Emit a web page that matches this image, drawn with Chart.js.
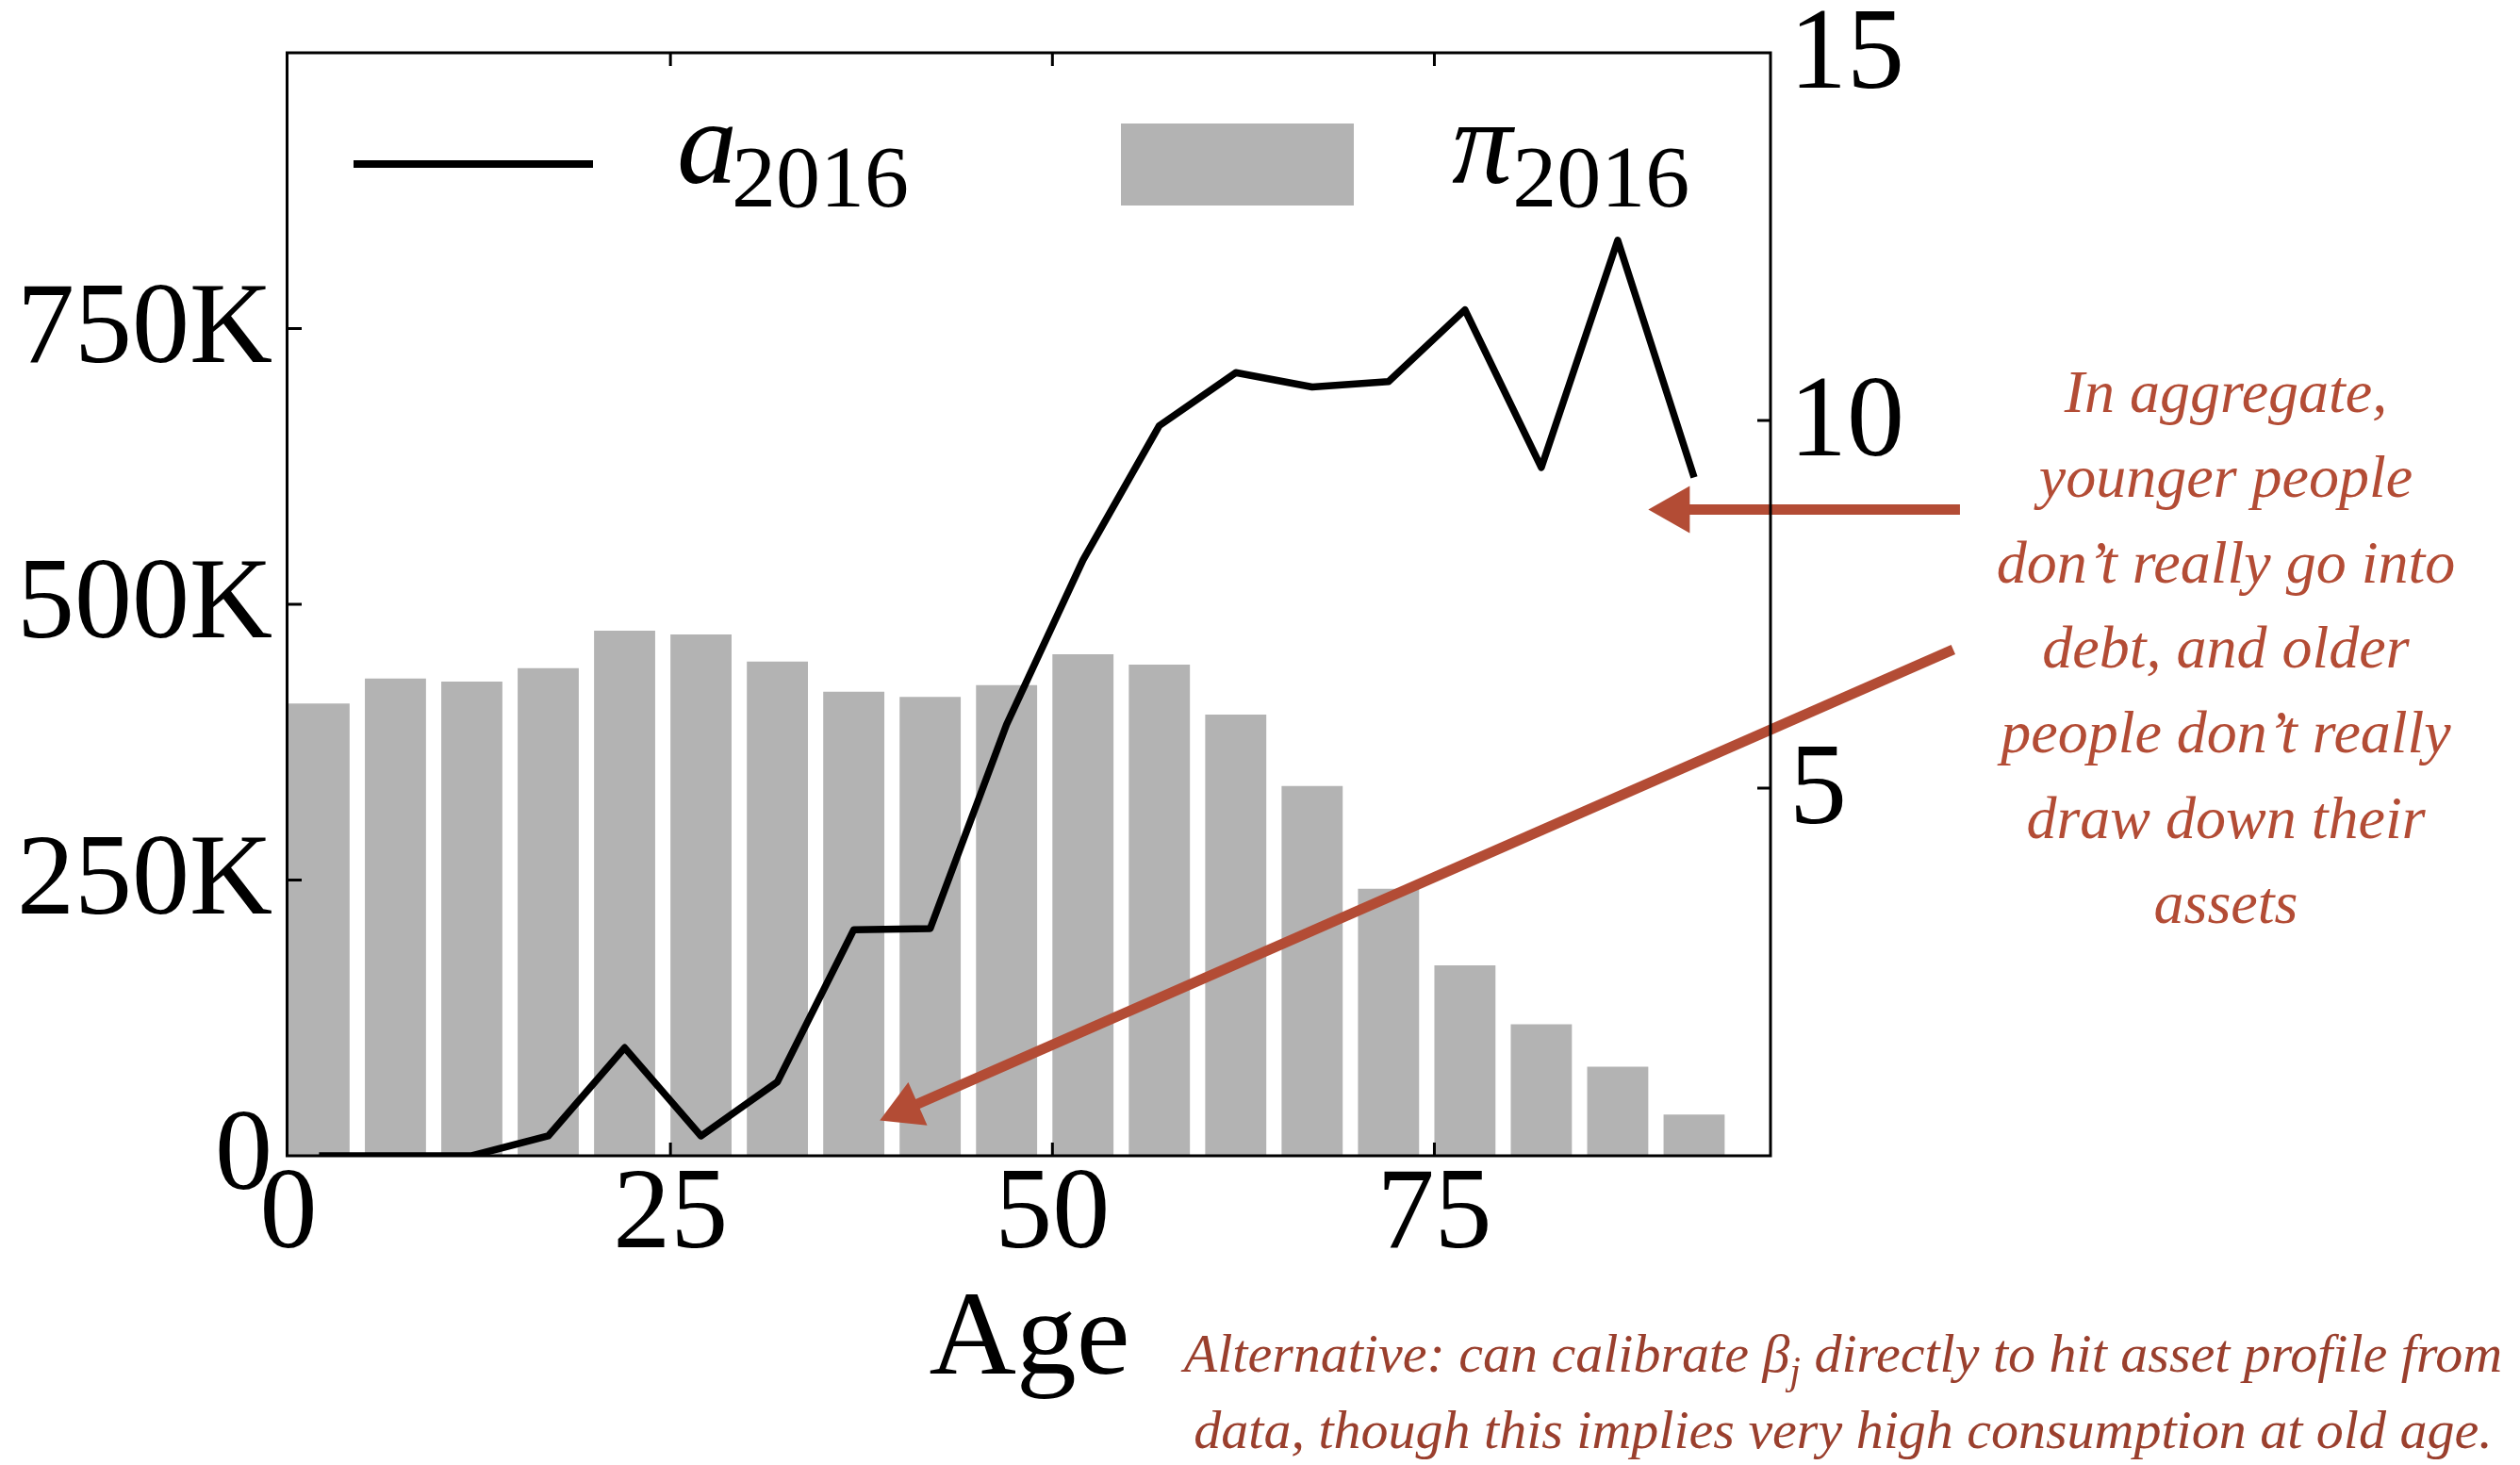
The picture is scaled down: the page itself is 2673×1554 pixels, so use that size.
<!DOCTYPE html>
<html>
<head>
<meta charset="utf-8">
<script src="https://cdn.jsdelivr.net/npm/chart.js@4.4.1/dist/chart.umd.min.js"></script>
<style>
  html, body { margin: 0; padding: 0; background: #ffffff; }
  #wrap { width: 2673px; height: 1554px; }
</style>
</head>
<body>
<div id="wrap"><canvas id="c" width="2673" height="1554"></canvas></div>
<script>
// Age groups (bin centres, five-year bins)
const ages = [2, 7, 12, 17, 22, 27, 32, 37, 42, 47, 52, 57, 62, 67, 72, 77, 82, 87, 92];
// Average assets by age, 2016
const assets2016 = [0, 0, 0, 18000, 98000, 18000, 67000, 205000, 206000, 391000,
                    540000, 662000, 710000, 697000, 702000, 767000, 624000, 830000, 615000];
// Population share by age, 2016 (percent)
const popShare2016 = [6.15, 6.49, 6.45, 6.63, 7.14, 7.09, 6.72, 6.31, 6.24, 6.40,
                      6.82, 6.68, 6.00, 5.03, 3.63, 2.59, 1.79, 1.21, 0.56];

// Tick values
const xTicks = [0, 25, 50, 75];
const assetTicks = [0, 250000, 500000, 750000];
const shareTicks = [5, 10, 15];

const SERIF = '"Liberation Serif", "Times New Roman", serif';
const RED = '#b34c35';
const RED_DARK = '#9a3f2d';
const GREY = '#b3b3b3';

const noteLines = [
  'In aggregate,',
  'younger people',
  'don\u2019t really go into',
  'debt, and older',
  'people don\u2019t really',
  'draw down their',
  'assets'
];

// Frame, inward tick marks, legend and annotations
const decorations = {
  id: 'decorations',
  afterDatasetsDraw(chart) {
    const ctx = chart.ctx;
    const x = chart.scales.x, yL = chart.scales.yL;
    // arrows (tail and tip in data coordinates)
    const arrows = [
      { from: [109.4, 586000], to: [89.0, 586000] },
      { from: [108.96, 459000], to: [38.7, 32000] }
    ];
    ctx.save();
    ctx.strokeStyle = RED;
    ctx.fillStyle = RED;
    ctx.lineWidth = 11;
    ctx.lineCap = 'butt';
    for (const a of arrows) {
      const x0 = x.getPixelForValue(a.from[0]), y0 = yL.getPixelForValue(a.from[1]);
      const x1 = x.getPixelForValue(a.to[0]), y1 = yL.getPixelForValue(a.to[1]);
      const ang = Math.atan2(y1 - y0, x1 - x0);
      const headLen = 44, headHalf = 25;
      const bx = x1 - headLen * Math.cos(ang), by = y1 - headLen * Math.sin(ang);
      ctx.beginPath();
      ctx.moveTo(x0, y0);
      ctx.lineTo(bx + 2 * Math.cos(ang), by + 2 * Math.sin(ang));
      ctx.stroke();
      ctx.beginPath();
      ctx.moveTo(x1, y1);
      ctx.lineTo(bx + headHalf * Math.sin(ang), by - headHalf * Math.cos(ang));
      ctx.lineTo(bx - headHalf * Math.sin(ang), by + headHalf * Math.cos(ang));
      ctx.closePath();
      ctx.fill();
    }
    ctx.restore();
  },
  afterDraw(chart) {
    const ctx = chart.ctx;
    const area = chart.chartArea;
    const x = chart.scales.x, yL = chart.scales.yL, yR = chart.scales.yR;
    ctx.save();

    // frame
    ctx.strokeStyle = '#000';
    ctx.lineWidth = 3;
    ctx.strokeRect(area.left - 1.5, area.top, area.right - area.left + 1.5, area.bottom - area.top);

    // inward tick marks
    const tl = 14;
    ctx.lineWidth = 3;
    ctx.beginPath();
    for (const v of xTicks) {
      if (v <= x.min) continue;
      const px = x.getPixelForValue(v);
      ctx.moveTo(px, area.bottom); ctx.lineTo(px, area.bottom - tl);
      ctx.moveTo(px, area.top); ctx.lineTo(px, area.top + tl);
    }
    for (const v of assetTicks) {
      if (v <= yL.min) continue;
      const py = yL.getPixelForValue(v);
      ctx.moveTo(area.left, py); ctx.lineTo(area.left + tl, py);
    }
    for (const v of shareTicks) {
      if (v >= yR.max) continue;
      const py = yR.getPixelForValue(v);
      ctx.moveTo(area.right, py); ctx.lineTo(area.right - tl, py);
    }
    ctx.stroke();

    // legend
    ctx.fillStyle = '#000';
    ctx.strokeStyle = '#000';
    ctx.lineWidth = 8;
    ctx.beginPath();
    ctx.moveTo(375, 174); ctx.lineTo(629, 174);
    ctx.stroke();
    ctx.textBaseline = 'alphabetic';
    ctx.textAlign = 'left';
    ctx.font = 'italic 128px ' + SERIF;
    ctx.fillText('a', 718, 194);
    ctx.font = '94px ' + SERIF;
    ctx.fillText('2016', 776, 219);

    ctx.fillStyle = GREY;
    ctx.fillRect(1189, 131, 247, 87);
    ctx.fillStyle = '#000';
    ctx.font = 'italic 128px ' + SERIF;
    ctx.fillText('\u03c0', 1540, 194);
    const piW = ctx.measureText('\u03c0').width;
    ctx.font = '94px ' + SERIF;
    ctx.fillText('2016', Math.min(1619, 1540 + piW), 219);

    // side note
    ctx.fillStyle = RED;
    ctx.textAlign = 'center';
    ctx.font = 'italic 64px ' + SERIF;
    noteLines.forEach((t, i) => ctx.fillText(t, 2361, 437 + 90.3 * i));

    // bottom note
    ctx.fillStyle = RED_DARK;
    const mainFont = 'italic 58px ' + SERIF;
    const subFont = 'italic 42px ' + SERIF;
    ctx.font = mainFont;
    const partA = 'Alternative: can calibrate \u03b2';
    const partB = ' directly to hit asset profile from';
    const wA = ctx.measureText(partA).width;
    const wB = ctx.measureText(partB).width;
    ctx.font = subFont;
    const wJ = ctx.measureText('j').width;
    const total = wA + wJ + wB;
    const sx = 1955 - total / 2;
    ctx.textAlign = 'left';
    ctx.font = mainFont;
    ctx.fillText(partA, sx, 1455);
    ctx.font = subFont;
    ctx.fillText('j', sx + wA, 1468);
    ctx.font = mainFont;
    ctx.fillText(partB, sx + wA + wJ, 1455);
    ctx.textAlign = 'center';
    ctx.fillText('data, though this implies very high consumption at old age.', 1955, 1536);

    ctx.restore();
  }
};

const tickFont = { family: SERIF, size: 122, lineHeight: 1 };
const noEdgePadding = s => { s.paddingTop = 0; s.paddingBottom = 0; s.paddingLeft = 0; s.paddingRight = 0; };

new Chart(document.getElementById('c').getContext('2d'), {
  data: {
    datasets: [
      {
        type: 'line',
        label: 'a2016',
        data: ages.map((a, i) => ({ x: a, y: assets2016[i] })),
        yAxisID: 'yL',
        borderColor: '#000000',
        borderWidth: 7.5,
        borderJoinStyle: 'round',
        pointRadius: 0,
        tension: 0,
        order: 0
      },
      {
        type: 'bar',
        label: '\u03c02016',
        data: ages.map((a, i) => ({ x: a, y: popShare2016[i] })),
        yAxisID: 'yR',
        backgroundColor: GREY,
        borderWidth: 0,
        barPercentage: 0.8,
        categoryPercentage: 1.0,
        order: 1
      }
    ]
  },
  options: {
    responsive: false,
    animation: false,
    devicePixelRatio: 1,
    layout: { padding: { left: 0, top: 56, right: 295, bottom: 0 } },
    plugins: { legend: { display: false }, tooltip: { enabled: false } },
    scales: {
      x: {
        type: 'linear',
        position: 'bottom',
        offset: false,
        min: 0,
        max: 97,
        grid: { display: false, drawTicks: false, offset: false },
        border: { display: false },
        afterBuildTicks: s => { s.ticks = xTicks.map(v => ({ value: v })); },
        ticks: { font: tickFont, color: '#000', padding: 4, maxRotation: 0, autoSkip: false,
                 callback: v => String(v) },
        title: { display: true, text: 'Age', color: '#000',
                 font: { family: SERIF, size: 128, lineHeight: 1 },
                 padding: { top: 0, bottom: 67 } },
        afterFit: s => { s.height = 328; noEdgePadding(s); }
      },
      yL: {
        type: 'linear',
        position: 'left',
        min: 0,
        max: 1000000,
        grid: { display: false, drawTicks: false },
        border: { display: false },
        afterBuildTicks: s => { s.ticks = assetTicks.map(v => ({ value: v })); },
        ticks: { font: tickFont, color: '#000', padding: 17, labelOffset: 3, autoSkip: false,
                 callback: v => v === 0 ? '0' : (v / 1000) + 'K' },
        afterFit: s => { s.width = 306; noEdgePadding(s); }
      },
      yR: {
        type: 'linear',
        position: 'right',
        min: 0,
        max: 15,
        grid: { display: false, drawTicks: false },
        border: { display: false },
        afterBuildTicks: s => { s.ticks = shareTicks.map(v => ({ value: v })); },
        ticks: { font: tickFont, color: '#000', padding: 20, labelOffset: 5, autoSkip: false,
                 callback: v => String(v) },
        afterFit: s => { s.width = 500; noEdgePadding(s); }
      }
    }
  },
  plugins: [decorations]
});
</script>
</body>
</html>
